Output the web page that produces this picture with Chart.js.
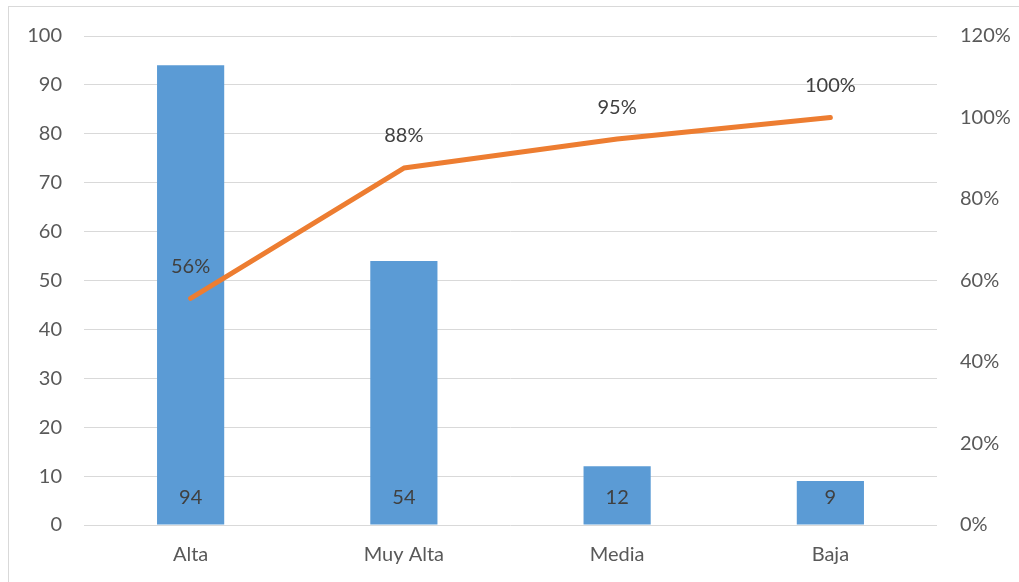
<!DOCTYPE html>
<html>
<head>
<meta charset="utf-8">
<script src="https://cdn.jsdelivr.net/npm/chart.js@4"></script>
<style>
  html, body { margin: 0; padding: 0; background: #ffffff; }
  #wrap { position: relative; width: 1019px; height: 582px; overflow: hidden; }
  #frame { position: absolute; left: 8px; top: 6px; width: 1030px; height: 600px; border: 1px solid #d9d9d9; box-sizing: border-box; }
  canvas { position: absolute; left: 0; top: 0; }
</style>
</head>
<body>
<div id="wrap">
  <div id="frame"></div>
  <canvas id="c" width="1019" height="582"></canvas>
</div>
<script>
// Categories and counts
const categories = ['Alta', 'Muy Alta', 'Media', 'Baja'];
const counts = [94, 54, 12, 9];
// Cumulative share (fraction of total) for the Pareto line
const cumulative = [0.556, 0.876, 0.947, 1.0];
const cumulativeLabels = ['56%', '88%', '95%', '100%'];

const FONT = 'Lato, "Open Sans", sans-serif';
const FONT_SIZE = 20;

// Draws the value labels: counts inside the bar bases, percentages above the line points
const valueLabels = {
  id: 'valueLabels',
  afterDatasetsDraw(chart) {
    const ctx = chart.ctx;
    ctx.save();
    ctx.font = FONT_SIZE + 'px ' + FONT;
    ctx.fillStyle = '#404040';
    ctx.textAlign = 'center';
    ctx.textBaseline = 'middle';
    const yBase = chart.scales.y.getPixelForValue(0);
    chart.getDatasetMeta(0).data.forEach((bar, i) => {
      ctx.fillText(String(counts[i]), bar.x, yBase - 27);
    });
    chart.getDatasetMeta(1).data.forEach((pt, i) => {
      ctx.fillText(cumulativeLabels[i], pt.x, pt.y - 32);
    });
    ctx.restore();
  }
};

new Chart(document.getElementById('c'), {
  data: {
    labels: categories,
    datasets: [
      {
        type: 'bar',
        data: counts,
        backgroundColor: '#5b9bd5',
        borderWidth: 0,
        categoryPercentage: 1.0,
        barPercentage: 0.315,
        yAxisID: 'y',
        order: 1
      },
      {
        type: 'line',
        data: cumulative,
        borderColor: '#ed7d31',
        borderWidth: 5,
        borderCapStyle: 'round',
        borderJoinStyle: 'round',
        pointRadius: 0,
        tension: 0,
        fill: false,
        yAxisID: 'y1',
        order: 0
      }
    ]
  },
  options: {
    responsive: false,
    animation: false,
    events: [],
    layout: { padding: { top: 36, left: 0, right: 0, bottom: 0 } },
    plugins: { legend: { display: false }, tooltip: { enabled: false } },
    scales: {
      x: {
        grid: { display: false, drawTicks: false },
        border: { display: false },
        ticks: { color: '#595959', font: { family: FONT, size: FONT_SIZE }, padding: 18 },
        afterFit(s) { s.height = 57; }
      },
      y: {
        position: 'left',
        min: 0, max: 100,
        ticks: { stepSize: 10, color: '#595959', font: { family: FONT, size: FONT_SIZE }, padding: 22 },
        grid: { color: '#d9d9d9', lineWidth: 1, drawTicks: false },
        border: { display: false },
        afterFit(s) { s.width = 84; }
      },
      y1: {
        position: 'right',
        min: 0, max: 1.2,
        ticks: {
          stepSize: 0.2, color: '#595959', font: { family: FONT, size: FONT_SIZE }, padding: 23,
          callback: v => Math.round(v * 100) + '%'
        },
        grid: { display: false, drawTicks: false },
        border: { display: false },
        afterFit(s) { s.width = 82; }
      }
    }
  },
  plugins: [valueLabels]
});
</script>
</body>
</html>
